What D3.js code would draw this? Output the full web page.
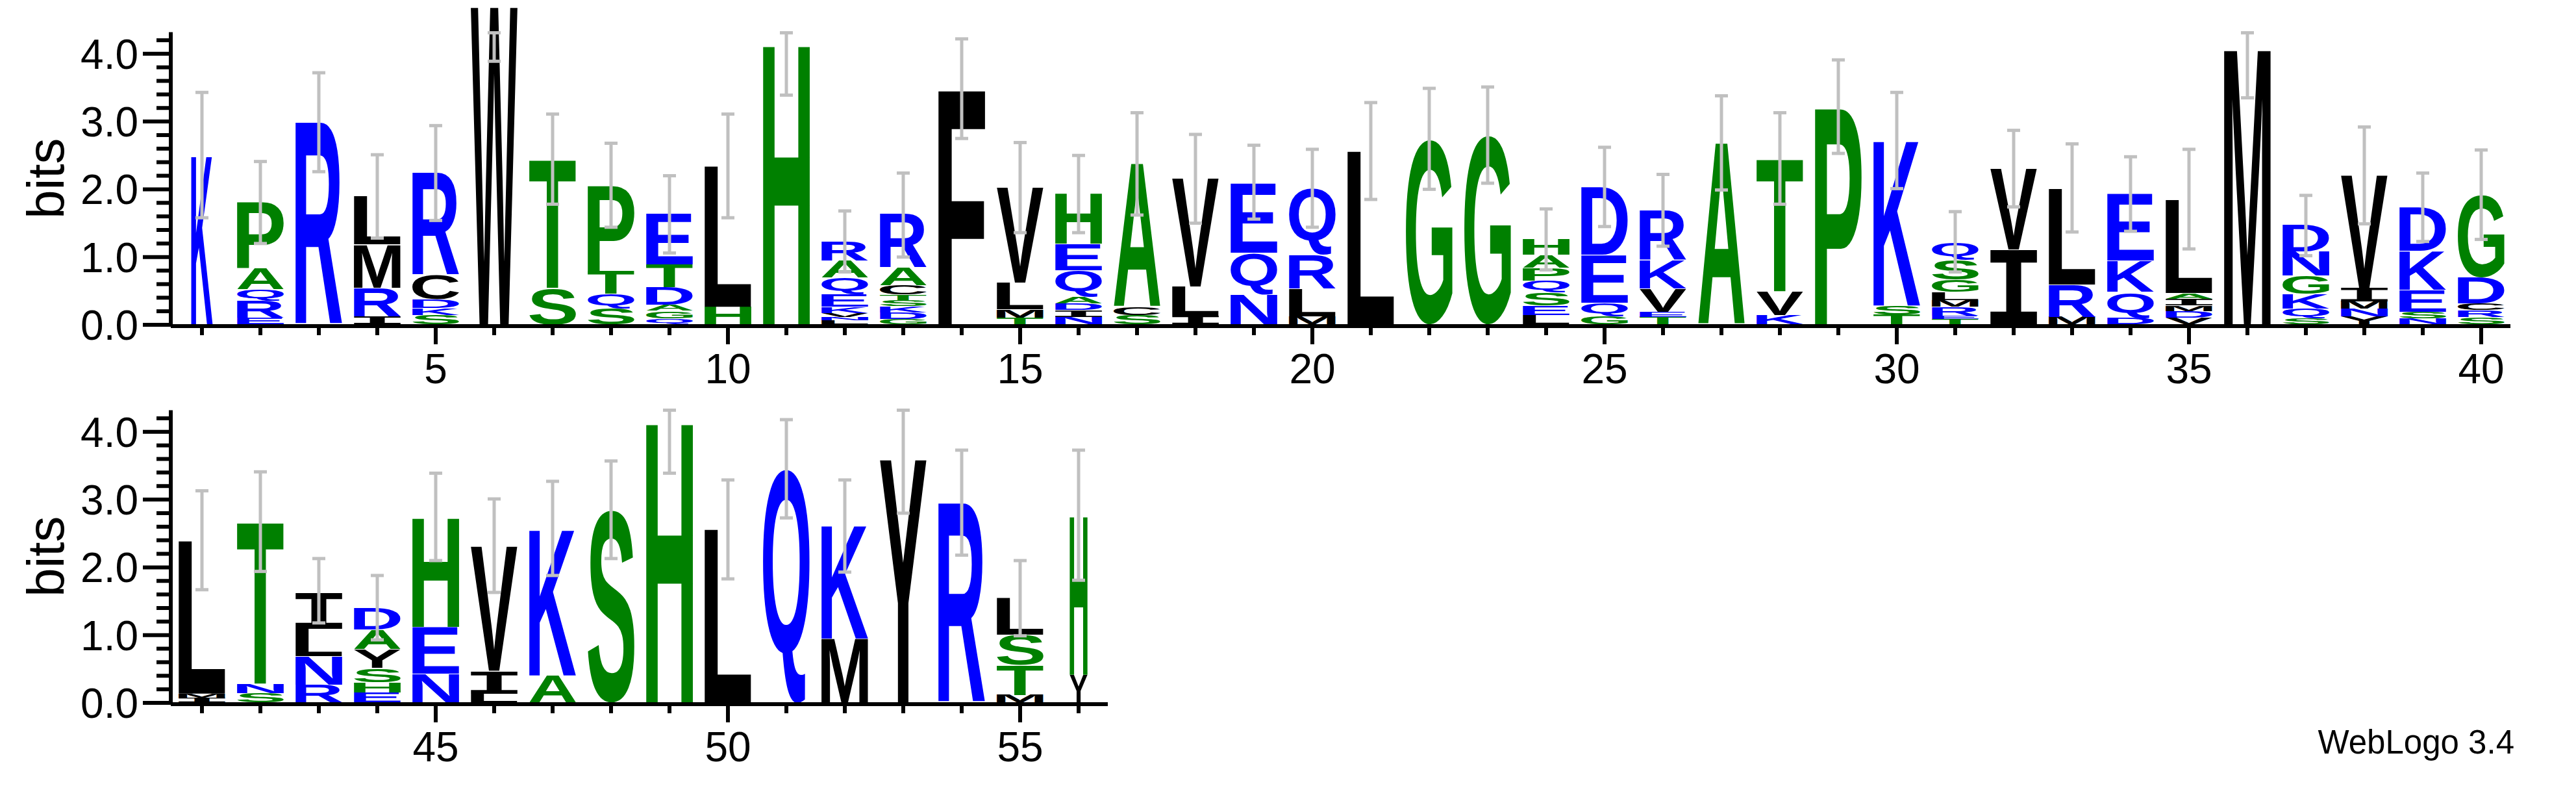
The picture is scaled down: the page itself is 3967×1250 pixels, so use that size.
<!DOCTYPE html>
<html><head><meta charset="utf-8">
<script src="https://cdn.jsdelivr.net/npm/d3@7"></script>
<style>html,body{margin:0;padding:0;background:#fff}svg{display:block}</style>
</head><body>
<svg id="chart" width="3967" height="1250"></svg>
<script>
// ---- data (letters listed bottom -> top, heights in bits) ----
const positions = d3.range(1, 57);
const letters = [
 "K","ERQAP","R","IRML","SKDCR","W","ST","SQTP","QGADTE","HL",
 "H","LNVKEQAR","GDKSTCAR","F","TMLV","NIDAQEH","SCA","ILV","NQE","MLRQ",
 "L","G","G","LESQPAH","GQED","TEVKR","A","KVT","P","TSK",
 "TERMLGSQ","IV","MRL","DQKE","VDMIAL","M","SQKGND","YNMIV","NSEKD","SRCDG",
 "IML","SNT","RNLI","EHSYAD","NEH","LIV","AK","S","H","L",
 "Q","MK","Y","R","MTSL","YH"];
const heights = [
 [2.50],[.10,.25,.17,.31,.98],[2.99],[.12,.42,.64,.72],[.14,.10,.13,.36,1.51],
 [4.69],[.54,1.90],[.24,.21,.34,1.27],[.09,.11,.09,.26,.34,.76],[.26,2.08],
 [4.14],[.06,.05,.06,.09,.19,.24,.25,.29],[.08,.10,.09,.09,.08,.14,.26,.80],[3.48],[.10,.12,.40,1.41],
 [.11,.10,.10,.10,.39,.39,.75],[.14,.12,2.12],[.13,.43,1.60],[.44,.62,1.03],[.12,.41,.50,.98],
 [2.56],[2.73],[2.79],[.14,.14,.19,.18,.19,.19,.24],[.12,.20,.71,1.00],
 [.11,.08,.34,.42,.73],[2.68],[.14,.35,1.96],[3.21],[.15,.13,2.44],
 [.08,.05,.13,.10,.12,.18,.30,.26],[1.11,1.20],[.11,.48,1.42],[.10,.38,.46,.99],[.10,.10,.08,.10,.08,1.38],
 [4.08],[.09,.14,.22,.27,.36,.40],[.12,.11,.11,.20,1.66],[.09,.10,.32,.58,.64],[.11,.10,.10,.39,1.22],
 [.07,.06,2.26],[.14,.14,2.39],[.26,.42,.41,.54],[.15,.15,.21,.28,.29,.33],[.43,.69,1.61],
 [.13,.34,1.84],[.40,2.16],[2.84],[4.14],[2.56],
 [3.46],[.94,1.67],[3.59],[2.95],[.11,.44,.45,.55],[.41,2.35]];
const errLo = [1.58,1.20,2.26,1.28,1.54,3.89,1.78,1.44,1.06,1.58,3.39,0.78,1.00,2.75,1.36,1.36,1.62,1.50,1.56,1.44,
 1.85,2.00,2.09,0.81,1.45,1.16,1.99,1.78,2.53,2.01,0.78,1.74,1.37,1.38,1.12,3.35,1.02,1.49,1.23,1.26,
 1.67,1.94,1.18,0.93,2.10,1.63,1.88,2.13,3.39,1.83,2.73,1.93,2.80,2.18,0.99,1.81];
const errHi = [3.43,2.41,3.72,2.51,2.94,4.31,3.11,2.68,2.20,3.11,4.31,1.68,2.24,4.22,2.69,2.50,3.13,2.81,2.65,2.59,
 3.28,3.49,3.51,1.71,2.62,2.22,3.38,3.13,3.91,3.43,1.67,2.87,2.67,2.48,2.59,4.31,1.91,2.92,2.24,2.58,
 3.13,3.41,2.13,1.88,3.39,3.01,3.27,3.57,4.32,3.29,4.18,3.29,4.32,3.73,2.10,3.73];
const colWeight = positions.map(p => p === 1 ? 0.46 : p === 56 ? 0.38 : 1);
const yTicks = [0, 1, 2, 3, 4];
const yTickLabels = ["0.0","1.0","2.0","3.0","4.0"];
const blueSet = "KRDENQ", greenSet = "AGPSTH";

function colorOf(l){ return blueSet.includes(l) ? "#0000ff" : greenSet.includes(l) ? "#008000" : "#000000"; }

const FONT = "Liberation Sans, Arial, sans-serif";
const MONO = "Liberation Mono, DejaVu Sans Mono, monospace";
function fontFor(l){ return l === "I" ? MONO : FONT; }
const svg = d3.select("#chart");
const cvs = document.createElement("canvas").getContext("2d");
const metricCache = {};
function metric(l){
  if(!metricCache[l]){
    cvs.font = l === "I" ? "bold 200px 'Liberation Mono'" : "bold 200px 'Liberation Sans'";
    const m = cvs.measureText(l);
    metricCache[l] = {l:m.actualBoundingBoxLeft, r:m.actualBoundingBoxRight, a:m.actualBoundingBoxAscent, d:m.actualBoundingBoxDescent};
  }
  return metricCache[l];
}

const rows = [
  {first:1, last:40, y0:500, xr:[266,3866], labels:[5,10,15,20,25,30,35,40]},
  {first:41, last:56, y0:1082, xr:[266,1706], labels:[45,50,55]}
];
const bitPx = 104.3;

function draw(){
  rows.forEach(row => {
    const x = d3.scaleLinear().domain([row.first-0.5, row.last+0.5]).range(row.xr);
    const y = d3.scaleLinear().domain([0, 4.32]).range([row.y0, row.y0 - 4.32*bitPx]);
    const g = svg.append("g");
    const colW = 72;
    for(let p=row.first; p<=row.last; p++){
      const i = p-1;
      const ls = letters[i], hs = heights[i];
      let base = 0;
      const w = colW*colWeight[i];
      ls.split("").forEach((l, k) => {
        const h = hs[k];
        const yTop = y(base + h), yBot = y(base);
        const bh = yBot - yTop;
        const m = metric(l);
        const gw = m.l + m.r, gh = m.a + m.d;
        const x0 = x(p) - w/2;
        g.append("text")
          .attr("font-family", fontFor(l)).attr("font-weight","bold").attr("font-size", 200)
          .attr("fill", colorOf(l))
          .attr("transform", `translate(${x0},${yTop}) scale(${w/gw},${(bh-0.6)/gh}) translate(${m.l},${m.a})`)
          .text(l);
        base += h;
      });
    }
    for(let p=row.first; p<=row.last; p++){
      const i = p-1, cx = x(p);
      const eg = g.append("g").attr("stroke","#c0c0c0").attr("stroke-width",5);
      eg.append("line").attr("x1",cx).attr("x2",cx).attr("y1",y(errLo[i])).attr("y2",y(errHi[i]));
      [errLo[i], errHi[i]].forEach(v => eg.append("line").attr("x1",cx-10).attr("x2",cx+10).attr("y1",y(v)).attr("y2",y(v)));
    }
    const ya = g.append("g");
    ya.append("line").attr("x1",263).attr("x2",263).attr("y1",y(4.32)).attr("y2",row.y0+3).attr("stroke","#000").attr("stroke-width",6);
    d3.range(0, 4.21, 0.2).forEach(v => {
      const major = Math.abs(v - Math.round(v)) < 1e-6;
      ya.append("line").attr("x1", major ? 220 : 241).attr("x2",263).attr("y1",y(v)).attr("y2",y(v))
        .attr("stroke","#000").attr("stroke-width",6);
    });
    yTicks.forEach((v,k) => ya.append("text").attr("x",213).attr("y",y(v)).attr("dy","0.36em")
      .attr("text-anchor","end").attr("font-family",FONT).attr("font-size",64).text(yTickLabels[k]));
    ya.append("text").attr("transform",`translate(98,${(y(0)+y(4.32))/2}) rotate(-90)`)
      .attr("text-anchor","middle").attr("font-family",FONT).attr("font-size",80).text("bits");
    const xa = g.append("g");
    xa.append("line").attr("x1",263).attr("x2",row.xr[1]).attr("y1",row.y0+2).attr("y2",row.y0+2).attr("stroke","#000").attr("stroke-width",6);
    for(let p=row.first; p<=row.last; p++){
      const major = p % 5 === 0;
      xa.append("line").attr("x1",x(p)).attr("x2",x(p)).attr("y1",row.y0+2).attr("y2",row.y0 + (major?30:16))
        .attr("stroke","#000").attr("stroke-width",6);
    }
    row.labels.forEach(v => xa.append("text").attr("x",x(v)).attr("y",row.y0+90)
      .attr("text-anchor","middle").attr("font-family",FONT).attr("font-size",64).text(v));
  });
  svg.append("text").attr("x",3872).attr("y",1160).attr("text-anchor","end")
    .attr("font-family",FONT).attr("font-size",51).text("WebLogo 3.4");
}
(document.fonts && document.fonts.load
  ? Promise.all([document.fonts.load("bold 200px 'Liberation Sans'"), document.fonts.load("bold 200px 'Liberation Mono'")])
  : Promise.resolve()).then(draw, draw);
</script>
</body></html>
